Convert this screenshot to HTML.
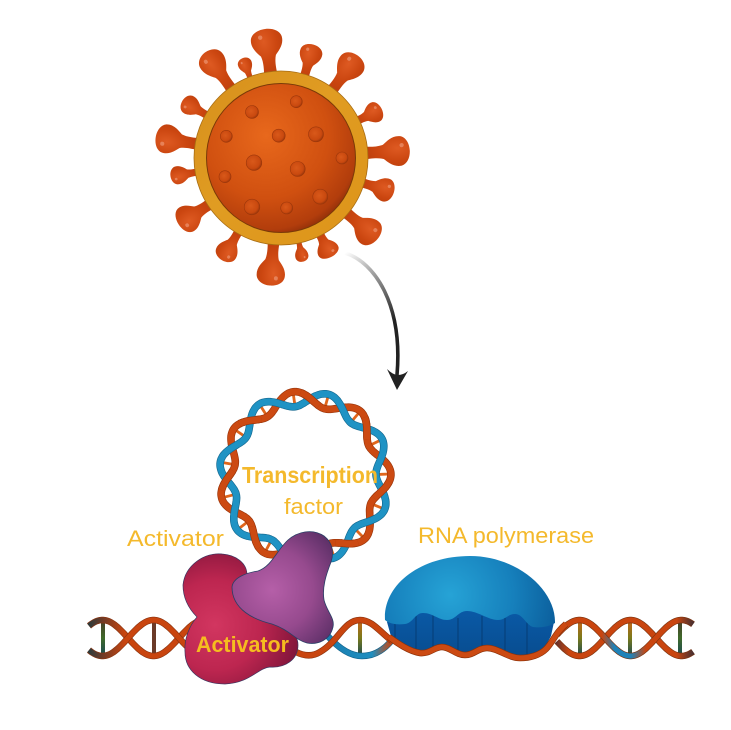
<!DOCTYPE html>
<html><head><meta charset="utf-8">
<style>html,body{margin:0;padding:0;background:#fff}svg{display:block}
text{font-family:"Liberation Sans",Arial,sans-serif;fill:#f4b92c}</style></head>
<body>
<svg xmlns="http://www.w3.org/2000/svg" width="731" height="730" viewBox="0 0 731 730">
<defs>
<radialGradient id="sp" cx=".4" cy=".25" r=".85"><stop offset="0" stop-color="#de5a22"/><stop offset=".5" stop-color="#cb4610"/><stop offset="1" stop-color="#b53c0c"/></radialGradient>
<g id="s"><path fill="url(#sp)" d="M-7 50C-6 40-5.5 33-7.5 27C-11 23-17 17-15.5 9C-14 3-7 0 0 0C7 0 14 3 15.5 9C17 17 11 23 7.5 27C5.5 33 6 40 7 50Z"/><ellipse cx="-6" cy="8" rx="2.2" ry="2.2" fill="#f0a080" opacity=".6"/></g>
<radialGradient id="body" cx=".4" cy=".35" r=".7"><stop offset="0" stop-color="#e8681c"/><stop offset=".6" stop-color="#d05010"/><stop offset=".9" stop-color="#b23d0c"/><stop offset="1" stop-color="#8a2c09"/></radialGradient>
<linearGradient id="ring" x1="0" y1="0" x2="1" y2="1"><stop offset="0" stop-color="#d68f1c"/><stop offset=".45" stop-color="#e09c22"/><stop offset="1" stop-color="#dd9419"/></linearGradient>
<radialGradient id="bump" cx=".42" cy=".42" r=".6"><stop offset="0" stop-color="#d9591a"/><stop offset=".75" stop-color="#c9490f"/><stop offset="1" stop-color="#9c370b"/></radialGradient>
<linearGradient id="arr" gradientUnits="userSpaceOnUse" x1="345" y1="253" x2="396" y2="320"><stop offset="0" stop-color="#fff"/><stop offset=".35" stop-color="#aaa"/><stop offset="1" stop-color="#222"/></linearGradient>
<radialGradient id="red" gradientUnits="userSpaceOnUse" cx="215" cy="625" r="90"><stop offset="0" stop-color="#d23660"/><stop offset=".5" stop-color="#bd2650"/><stop offset="1" stop-color="#7c1338"/></radialGradient>
<radialGradient id="pur" gradientUnits="userSpaceOnUse" cx="272" cy="590" r="75"><stop offset="0" stop-color="#b55fa8"/><stop offset=".55" stop-color="#964a8e"/><stop offset="1" stop-color="#5e3068"/></radialGradient>
<radialGradient id="dome" gradientUnits="userSpaceOnUse" cx="450" cy="595" r="115"><stop offset="0" stop-color="#26a3d6"/><stop offset=".55" stop-color="#1680bc"/><stop offset="1" stop-color="#0a5a98"/></radialGradient>
<linearGradient id="pb" x1="0" y1="0" x2="0" y2="1"><stop offset="0" stop-color="#0a5cab"/><stop offset="1" stop-color="#084d90"/></linearGradient>
<linearGradient id="lg1" gradientUnits="userSpaceOnUse" x1="89" y1="0" x2="125" y2="0"><stop offset="0" stop-color="#2e3a3a"/><stop offset=".35" stop-color="#6b3a28"/><stop offset="1" stop-color="#c9450f"/></linearGradient>
<linearGradient id="mid" gradientUnits="userSpaceOnUse" x1="325" y1="0" x2="392" y2="0"><stop offset="0" stop-color="#1a7db0"/><stop offset=".7" stop-color="#1f8fc0"/><stop offset="1" stop-color="#c9450f"/></linearGradient>
<linearGradient id="rA" gradientUnits="userSpaceOnUse" x1="555" y1="0" x2="693" y2="0"><stop offset="0" stop-color="#c9450f"/><stop offset=".34" stop-color="#c9450f"/><stop offset=".43" stop-color="#1f82b8"/><stop offset="0.55" stop-color="#1f82b8"/><stop offset=".66" stop-color="#c9450f"/><stop offset=".88" stop-color="#c9450f"/><stop offset="1" stop-color="#4a3030"/></linearGradient>
<linearGradient id="rB" gradientUnits="userSpaceOnUse" x1="555" y1="0" x2="693" y2="0"><stop offset="0" stop-color="#5a3030"/><stop offset=".1" stop-color="#c9450f"/><stop offset=".88" stop-color="#c9450f"/><stop offset="1" stop-color="#4a3030"/></linearGradient>
<linearGradient id="rung1" x1="0" y1="0" x2="0" y2="1"><stop offset="0" stop-color="#4a3a2a"/><stop offset=".5" stop-color="#3f6a2a"/><stop offset="1" stop-color="#1a4a55"/></linearGradient>
<linearGradient id="rung2" x1="0" y1="0" x2="0" y2="1"><stop offset="0" stop-color="#c9651a"/><stop offset=".5" stop-color="#7a7a1a"/><stop offset="1" stop-color="#1a4a55"/></linearGradient>
</defs>

<!-- spikes -->
<g id="spikes">
<use href="#s" transform="translate(281 158) rotate(-7) translate(0 -130) scale(1 1)"/>
<use href="#s" transform="translate(281 158) rotate(-21) translate(0 -107) scale(.45 .54)"/>
<use href="#s" transform="translate(281 158) rotate(-35.6) translate(0 -130) scale(.85 1)"/>
<use href="#s" transform="translate(281 158) rotate(16) translate(0 -118) scale(.72 .76)"/>
<use href="#s" transform="translate(281 158) rotate(37) translate(0 -128) scale(.88 .96)"/>
<use href="#s" transform="translate(281 158) rotate(64) translate(0 -112) scale(.66 .64)"/>
<use href="#s" transform="translate(281 158) rotate(86.6) translate(0 -129) scale(.95 .98)"/>
<use href="#s" transform="translate(281 158) rotate(107) translate(0 -118) scale(.75 .76)"/>
<use href="#s" transform="translate(281 158) rotate(130) translate(0 -126) scale(.9 .92)"/>
<use href="#s" transform="translate(281 158) rotate(153) translate(0 -111) scale(.7 .62)"/>
<use href="#s" transform="translate(281 158) rotate(168) translate(0 -106) scale(.42 .52)"/>
<use href="#s" transform="translate(281 158) rotate(185) translate(0 -128) scale(.9 .96)"/>
<use href="#s" transform="translate(281 158) rotate(210) translate(0 -118) scale(.7 .76)"/>
<use href="#s" transform="translate(281 158) rotate(237) translate(0 -122) scale(.88 .84)"/>
<use href="#s" transform="translate(281 158) rotate(260.5) translate(0 -112) scale(.58 .64)"/>
<use href="#s" transform="translate(281 158) rotate(279.5) translate(0 -127) scale(.92 .94)"/>
<use href="#s" transform="translate(281 158) rotate(300) translate(0 -114) scale(.62 .68)"/>
</g>
<!-- virus body -->
<circle cx="281" cy="158" r="87" fill="url(#ring)" stroke="#a86c12" stroke-width=".8"/>
<circle cx="281" cy="158" r="74.5" fill="url(#body)" stroke="#7a3a08" stroke-width="1"/>
<g fill="url(#bump)" stroke="#9c370b" stroke-width=".6">
<circle cx="296.3" cy="101.7" r="6"/><circle cx="252" cy="112" r="6.5"/><circle cx="226.3" cy="136.3" r="6"/><circle cx="278.7" cy="135.7" r="6.5"/><circle cx="316" cy="134.3" r="7.5"/><circle cx="342" cy="158" r="6"/><circle cx="254" cy="162.7" r="7.8"/><circle cx="297.7" cy="169" r="7.5"/><circle cx="225" cy="176.7" r="6"/><circle cx="320.3" cy="196.7" r="7.5"/><circle cx="252" cy="207" r="7.8"/><circle cx="286.7" cy="208" r="6"/>
</g>
<!-- arrow -->
<path d="M345 253C375 262 403 305 397 375" fill="none" stroke="url(#arr)" stroke-width="3.6"/>
<path d="M387 369Q393 375 398 375Q403 375 408 371L397 390Z" fill="#222"/>

<g id="ringdna"></g>
<g id="lindna"></g>

<!-- polymerase -->
<path d="M387 622L400 600L540 600L554 622L551 636L543 651L520 657L487 647L465 654L442 646L420 652L392 640Z" fill="url(#pb)"/>
<g stroke="#063a70" stroke-width=".9"><path d="M395 622V642M416 616V650M433 614V648M458 618V652M482 616V650M505 618V654M527 622V654"/></g>
<path d="M385 620C383 585 420 556 470 556C517 556 556 590 555 623C548 627 540 628 533 627C526 625 523 614 515 614C508 614 505 620 498 620C488 620 478 611 467 611C458 611 456 620 447 620C438 620 433 613 423 613C415 613 413 623 405 624C397 625 390 624 385 620Z" fill="url(#dome)"/>
<g id="pstrand"></g>

<!-- activator -->
<path d="M183 585C185 565 205 552 222 554C236 555 247 563 247 575L270 620C285 626 298 632 298 645C298 660 285 668 270 667C258 668 250 683 225 684C200 684 185 670 185 652C184 638 190 625 197 617C188 608 183 597 183 585Z" fill="url(#red)" stroke="#3a3560" stroke-width=".7"/>
<path d="M232 587C233 578 245 573 258 571C272 566 277 550 288 540C297 532 312 528 324 536C333 543 334 553 331 562C326 575 322 587 324 600C327 612 335 618 333 627C330 640 318 645 307 643C295 640 290 630 272 624C255 620 232 610 232 587Z" fill="url(#pur)" stroke="#2a3f66" stroke-width=".8"/>

<text x="242" y="483" font-size="23" font-weight="bold" textLength="136" lengthAdjust="spacingAndGlyphs">Transcription</text>
<text x="284" y="514" font-size="22" textLength="59" lengthAdjust="spacingAndGlyphs">factor</text>
<text x="127" y="546" font-size="22" textLength="97" lengthAdjust="spacingAndGlyphs">Activator</text>
<text x="196" y="652" font-size="22" font-weight="bold" textLength="93" lengthAdjust="spacingAndGlyphs" style="fill:#f5bd1f">Activator</text>
<text x="418" y="543" font-size="22" textLength="176" lengthAdjust="spacingAndGlyphs">RNA polymerase</text>

<script>
var NS="http://www.w3.org/2000/svg";
function add(g,tag,a){var e=document.createElementNS(NS,tag);for(var k in a)e.setAttribute(k,a[k]);document.getElementById(g).appendChild(e);return e;}
function strand(g,d,dark,light,w){
 add(g,"path",{d:d,fill:"none",stroke:dark,"stroke-width":w,"stroke-linejoin":"round"});
 add(g,"path",{d:d,fill:"none",stroke:light,"stroke-width":w-1.3,"stroke-linejoin":"round"});
}
/* ring */
var cx=305,cy=477,R=78.5,A=7.5;
function f(t){return Math.sin(Math.PI*(t-4)/24);}
function pt(t,s,ex){var r=R+(ex==null?s*A*f(t):ex),a=t*Math.PI/180;return (cx+r*Math.sin(a)).toFixed(1)+" "+(cy-r*Math.cos(a)).toFixed(1);}
function arc(t0,t1,s){var d="M"+pt(t0,s);for(var t=t0+1;t<=t1;t+=1)d+="L"+pt(t,s);return d;}
for(var k=-8;k<8;k++){var m=16+24*k;
 var d="M"+pt(m,0,-A)+"L"+pt(m,0,A);
 add("ringdna","path",{d:d,stroke:"#e0661c","stroke-width":2.8,fill:"none"});}
strand("ringdna",arc(-180,180,-1),"#9a3409","#cc4a12",7.6);
strand("ringdna",arc(-180,180,1),"#14688f","#1f93c4",7.6);
for(k=-8;k<8;k+=2){var c=4+24*k;strand("ringdna",arc(c-7,c+7,-1),"#9a3409","#cc4a12",7.6);}
/* linear */
var y0=638,B=18;
function wave(x0,x1,xc,s){var d="";for(var x=x0;x<=x1;x+=1){var y=y0+s*B*Math.sin(Math.PI*(x-xc)/51);d+=(d?"L":"M")+x+" "+y.toFixed(1);}return d;}
function rung(x,fill){add("lindna","rect",{x:x-2,y:y0-B,width:4,height:2*B,fill:fill});}
rung(103,"url(#rung1)");rung(154,"#6b3a28");rung(360,"url(#rung2)");rung(580,"url(#rung2)");rung(630,"url(#rung2)");rung(680,"url(#rung1)");
strand("lindna",wave(89,200,128,1),"#8a3410","url(#lg1)",6.5);
strand("lindna",wave(89,200,128,-1),"#8a3410","url(#lg1)",6.5);
/* middle */
strand("lindna","M326 634C338 648 350 656 362 656C374 656 384 650 392 640","#12628a","url(#mid)",6.5);
strand("lindna","M296 652C304 656 312 657 320 652C338 642 344 620 360 620C372 620 380 632 392 641","#8a3410","#c9450f",6.5);
/* right */
strand("lindna",wave(557,693,605,-1),"#7a3410","url(#rB)",6.5);
strand("lindna",wave(557,693,605,1),"#7a3410","url(#rA)",6.5);
/* strand under polymerase */
strand("pstrand","M389 637C396 642 408 651 420 653C430 654 434 647 442 647C450 647 456 655 465 655C474 655 478 648 487 648C498 648 508 658 520 658C530 658 540 655 546 649C553 642 556 632 566 624","#8a3008","#cc4a12",6.5);
</script>
</svg>
</body></html>
